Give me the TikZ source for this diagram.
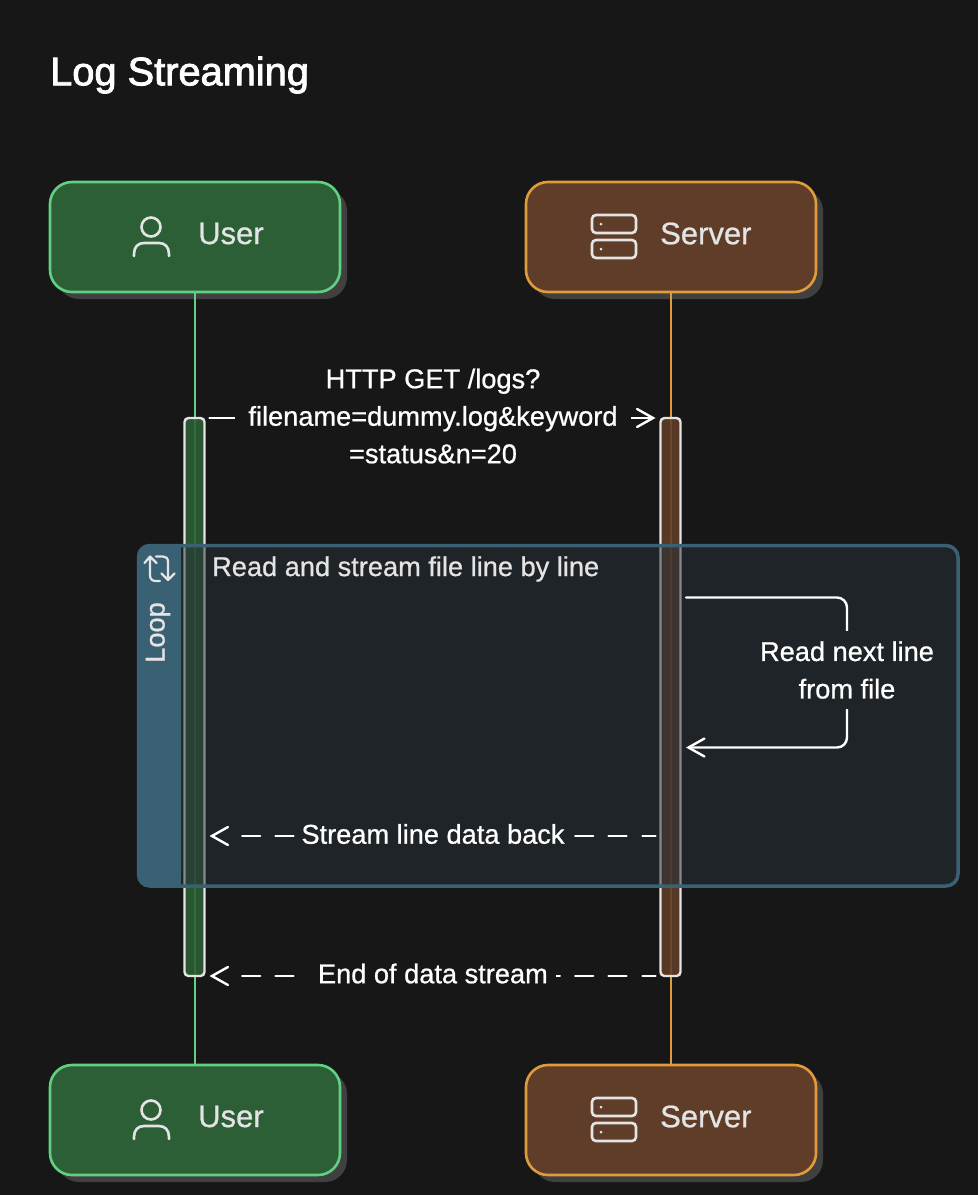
\documentclass[tikz,border=0pt]{standalone}
\usepackage{fontspec}
\setmainfont{Liberation Sans}
\newfontfamily\titlefont[FakeBold=2.2]{Liberation Sans}
\newfontfamily\msgfont[FakeBold=0.8]{Liberation Sans}
\usetikzlibrary{arrows.meta,shadows,calc}
\definecolor{bg}{HTML}{171717}
\definecolor{shadowc}{HTML}{404040}
\definecolor{ugreen}{HTML}{2D5F36}
\definecolor{ugreenb}{HTML}{63CF83}
\definecolor{sbrown}{HTML}{5F3D28}
\definecolor{sbrownb}{HTML}{E09C3A}
\definecolor{loopc}{HTML}{3A6074}
\definecolor{loopf}{RGB}{39,49,57}
\definecolor{soft}{HTML}{E4E4E4}
\tikzset{
 actorbox/.style={draw,line width=2.6pt,rounded corners=22pt,minimum width=290pt,minimum height=110pt,outer sep=0pt,
   general shadow={shadow xshift=7pt,shadow yshift=-7pt,fill=shadowc}},
 useractor/.style={actorbox,draw=ugreenb,fill=ugreen},
 serveractor/.style={actorbox,draw=sbrownb,fill=sbrown},
 actortext/.style={text=soft,font=\msgfont\fontsize{31}{36}\selectfont,inner sep=0pt},
 lifeu/.style={draw=ugreenb,line width=2pt},
 lifes/.style={draw=sbrownb,line width=2pt},
 activebar/.style={draw=soft,line width=2.4pt,rounded corners=4pt,minimum width=20pt,minimum height=558pt,outer sep=0pt,fill opacity=.88},
 msgtext/.style={text=white,font=\msgfont\fontsize{27.2}{37.5}\selectfont,align=center,inner sep=0pt},
 msgsolid/.style={draw=white,line width=2.4pt,line cap=round,-{Straight Barb[length=16pt,width=18pt,line cap=round]}},
 msgdash/.style={msgsolid,dash pattern=on 13pt off 16pt on 18pt off 15.3pt on 18pt off 15.3pt on 18pt off 15.3pt on 18pt off 15.3pt on 18pt off 15.3pt on 18pt off 15.3pt on 18pt off 15.3pt on 18pt off 15.3pt on 18pt off 15.3pt on 18pt off 15.3pt on 18pt off 15.3pt on 18pt off 80pt},
 iconline/.style={draw=soft,line width=2.6pt,line cap=round},
 usericon/.pic={
   \draw[iconline] (151,227) circle (9.5);
   \draw[iconline] (134,256) -- (134,254) .. controls (134,247) and (138,243) .. (144,243) -- (159,243) .. controls (165,243) and (169,247) .. (169,254) -- (169,256);
 },
 servericon/.pic={
   \draw[iconline,rounded corners=4pt] (592,215) rectangle (636,233);
   \draw[iconline,rounded corners=4pt] (592,240) rectangle (636,258);
   \fill[soft] (601,224) circle (1.5) (601,249) circle (1.5);
 },
}
\begin{document}
\begin{tikzpicture}[x=1pt,y=-1pt]
\useasboundingbox[fill=bg] (0,0) rectangle (978,1195);

\node[anchor=west,inner sep=0pt,text=white,font=\titlefont\fontsize{39.8}{46}\selectfont] (title) at (50,75) {Log Streaming};

% actors
\node[useractor] (userTop) at (195,237) {};
\node[serveractor] (serverTop) at (671,237) {};
\node[useractor] (userBot) at (195,1120) {};
\node[serveractor] (serverBot) at (671,1120) {};
\pic {usericon};
\pic {servericon};
\pic at (0,883) {usericon};
\pic at (0,883) {servericon};
\node[actortext,anchor=west] (userTopT) at (198,233.5) {User};
\node[actortext,anchor=west] (serverTopT) at (660,233.5) {Server};
\node[actortext,anchor=west] (userBotT) at (198,1116.5) {User};
\node[actortext,anchor=west] (serverBotT) at (660,1116.5) {Server};

% lifelines
\draw[lifeu] (userTop) -- (userBot);
\draw[lifes] (serverTop) -- (serverBot);

% activations
\node[activebar,fill=ugreen] (userBar) at (194.5,697) {};
\node[activebar,fill=sbrown] (serverBar) at (670.5,697) {};

% loop frame
\draw[draw=loopc,line width=3.5pt,rounded corners=12pt,fill=loopf,fill opacity=.5] (138.5,545.5) rectangle (958,886);
\fill[loopc,rounded corners=12pt] (137,544) -- (181,544) -- (181,887.5) -- (137,887.5) -- cycle;
\fill[loopc] (165,544) rectangle (181,887.5);
\draw[draw=soft,line width=2.2pt,line cap=round,line join=round]
  (144.5,563) -- (150,556.5) -- (156.5,563)
  (150,556.5) -- (150,575) .. controls (150,579) and (152,581) .. (156,581) -- (160,581)
  (156,556.5) -- (163,556.5) .. controls (166,556.5) and (168,558) .. (168,562) -- (168,580)
  (161.5,573.5) -- (168,580) -- (174.5,573.5);
\node[text=soft,font=\msgfont\fontsize{27.2}{30}\selectfont,rotate=90,inner sep=0pt] (loopTag) at (158,632.5) {Loop};
\node[anchor=west,text=soft,font=\msgfont\fontsize{27.2}{30}\selectfont,inner sep=0pt] (loopText) at (212,569) {Read and stream file line by line};

% messages
\draw[msgsolid,shorten <=5pt,shorten >=5pt] (userBar.north east) -- (serverBar.north west);
\node[msgtext,fill=bg,inner xsep=13pt,inner ysep=0pt] (m1) at (433,416) {HTTP GET /logs?\\filename=dummy.log\&keyword\\=status\&n=20};

\coordinate (selfA) at (686,597.5);
\coordinate (selfB) at (686,747.5);
\draw[msgsolid,rounded corners=10pt] (selfA) -- (847,597.5) -- (847,747.5) -- (selfB);
\node[msgtext,fill=loopf!50!bg,inner xsep=0pt,inner ysep=10pt] (selflabel) at (847,670) {Read next line\\from file};

\coordinate (streamY) at (0,836);
\draw[msgdash,shorten <=5pt,shorten >=5pt] (serverBar.west |- streamY) -- (userBar.east |- streamY);
\node[msgtext,fill=loopf!50!bg,inner xsep=6pt,inner ysep=4pt] (m3) at (433,834) {Stream line data back};

\draw[msgdash,shorten <=5pt,shorten >=5pt] (serverBar.south west) -- (userBar.south east);
\node[msgtext,fill=bg,inner xsep=0pt,inner ysep=4pt,anchor=east] (m4) at (556,973.5) {\rule{21pt}{0pt}End of data stream\rule{8pt}{0pt}};
\end{tikzpicture}
\end{document}
